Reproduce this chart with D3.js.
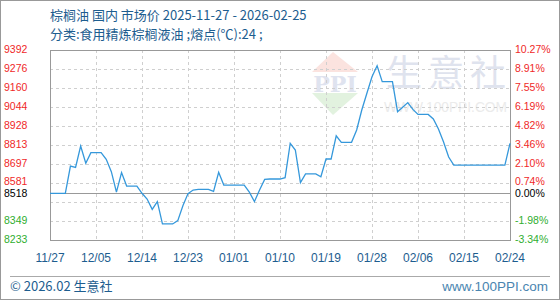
<!DOCTYPE html>
<html>
<head>
<meta charset="utf-8">
<script src="https://cdn.jsdelivr.net/npm/d3@7"></script>
<style>
  body { margin: 0; background: #fff; }
  svg { display: block; }
</style>
</head>
<body>
<div id="chart"></div>
<script>
// chart text
const titleText = "棕榈油 国内 市场价 2025-11-27 - 2026-02-25";
const subTitleText = "分类:食用精炼棕榈液油 ;熔点(℃):24 ;";

// daily prices, 2025-11-27 .. 2026-02-25 (day index 0..90)
const prices = [
    8518, 8518, 8518, 8518, 8684, 8676, 8806, 8701, 8766, 8766,
    8766, 8725, 8650, 8525, 8644, 8562, 8562, 8562, 8518, 8483,
    8420, 8467, 8331, 8331, 8331, 8351, 8442, 8516, 8538, 8542,
    8542, 8542, 8530, 8646, 8568, 8568, 8568, 8568, 8568, 8525,
    8467, 8538, 8603, 8605, 8605, 8605, 8613, 8823, 8782, 8583,
    8636, 8636, 8636, 8619, 8727, 8727, 8869, 8829, 8829, 8829,
    8904, 9026, 9128, 9229, 9296, 9199, 9199, 9199, 9016, 9043,
    9071, 9030, 8999, 8999, 8999, 8971, 8910, 8831, 8739, 8690,
    8690, 8690, 8690, 8690, 8690, 8690, 8690, 8690, 8690, 8690,
    8823
];

// axis ticks
const baseValue = 8518;
const yTickValues = [9392, 9276, 9160, 9044, 8928, 8813, 8697, 8581, 8465, 8349, 8233];
const leftLabelValues = [9392, 9276, 9160, 9044, 8928, 8813, 8697, 8581, 8518, 8349, 8233];
const rightLabels = ["10.27%", "8.91%", "7.55%", "6.19%", "4.82%", "3.46%", "2.10%", "0.74%", "0.00%", "-1.98%", "-3.34%"];
const xTickDays = [0, 9, 18, 27, 36, 45, 54, 63, 72, 81, 90];
const xTickLabels = ["11/27", "12/05", "12/14", "12/23", "01/01", "01/10", "01/19", "01/28", "02/06", "02/15", "02/24"];

const W = 560, H = 300;
const margin = {top: 50, right: 50, bottom: 60, left: 50};

const svg = d3.select("#chart")
    .append("svg")
    .attr("width", W)
    .attr("height", H)
    .style("font-family", "'Liberation Sans', Arial, sans-serif");

// outer frame
svg.append("rect")
    .attr("x", 0.5).attr("y", 0.5)
    .attr("width", W - 1).attr("height", H - 1)
    .attr("fill", "#fff")
    .attr("stroke", "#999");

let x = d3.scaleLinear()
    .domain([0, 90])
    .range([margin.left, W - margin.right]);

let y = d3.scaleLinear()
    .domain([8233, 9392])
    .range([H - margin.bottom, margin.top]);

// titles
svg.append("text")
    .attr("x", 50).attr("y", 20)
    .attr("fill", "#1d5d8f")
    .style("font-family", "'Noto Sans CJK SC', sans-serif")
    .style("font-size", "13px")
    .text(titleText);

svg.append("text")
    .attr("x", 50).attr("y", 39)
    .attr("fill", "#1d5d8f")
    .style("font-family", "'Noto Sans CJK SC', sans-serif")
    .style("font-size", "13px")
    .text(subTitleText);

// watermark
let wm = svg.append("g");
wm.append("path")
    .attr("d", "M333,52 L312,72 L358,72 Z")
    .attr("fill", "#fbe3df");
wm.append("path")
    .attr("d", "M312,93 L358,93 L333,115 Z")
    .attr("fill", "#e2f2df");
wm.append("text")
    .attr("x", 335).attr("y", 92)
    .attr("text-anchor", "middle")
    .attr("fill", "#dfe3ef")
    .style("font-family", "'DejaVu Serif', serif")
    .style("font-weight", "bold")
    .style("font-size", "22px")
    .text("PPI");
wm.append("text")
    .attr("x", 386).attr("y", 86)
    .attr("fill", "#dfe3ee")
    .attr("textLength", 120)
    .attr("lengthAdjust", "spacing")
    .style("font-family", "'Noto Sans CJK SC', sans-serif")
    .style("font-size", "36px")
    .text("生意社");
wm.append("text")
    .attr("x", 384).attr("y", 112)
    .attr("fill", "#ebebeb")
    .attr("textLength", 123)
    .attr("lengthAdjust", "spacingAndGlyphs")
    .style("font-size", "14px")
    .text("WWW.100PPI.COM");

// grid
let grid = svg.append("g")
    .attr("stroke", "#cfcfcf")
    .attr("stroke-dasharray", "3,3");

grid.selectAll(".hgrid")
    .data(yTickValues)
    .join("line")
    .attr("class", "hgrid")
    .attr("x1", x(0)).attr("x2", x(90))
    .attr("y1", d => Math.round(y(d)) + 0.5)
    .attr("y2", d => Math.round(y(d)) + 0.5);

grid.selectAll(".vgrid")
    .data(xTickDays)
    .join("line")
    .attr("class", "vgrid")
    .attr("y1", y(9392)).attr("y2", y(8233))
    .attr("x1", d => Math.round(x(d)) + 0.5)
    .attr("x2", d => Math.round(x(d)) + 0.5);

// base line
svg.append("line")
    .attr("x1", x(0)).attr("x2", x(90))
    .attr("y1", Math.round(y(baseValue)) + 0.5)
    .attr("y2", Math.round(y(baseValue)) + 0.5)
    .attr("stroke", "#999");

// plot frame
svg.append("rect")
    .attr("x", x(0) + 0.5).attr("y", y(9392) + 0.5)
    .attr("width", x(90) - x(0)).attr("height", y(8233) - y(9392))
    .attr("fill", "none")
    .attr("stroke", "#999");

// price line
let line = d3.line()
    .x((d, i) => x(i))
    .y(d => y(d));

svg.append("path")
    .datum(prices)
    .attr("d", line)
    .attr("fill", "none")
    .attr("stroke", "#3598db")
    .attr("stroke-width", 1.3);

// label colours and vertical nudge (8581 and 8518 sit close together)
function valueColor(v) {
    if (v > baseValue) return "#f02828";
    if (v < baseValue) return "#2fae2f";
    return "#000";
}

function labelY(v) {
    if (v === 8581) return y(v) + 1.6;
    if (v === baseValue) return y(v) + 3.4;
    return y(v) + 3.2;
}

// left labels
svg.selectAll(".ylab")
    .data(leftLabelValues)
    .join("text")
    .attr("class", "ylab")
    .attr("x", 4)
    .attr("y", labelY)
    .attr("fill", valueColor)
    .style("font-size", "10.5px")
    .text(d => d);

// right labels
svg.selectAll(".rlab")
    .data(leftLabelValues)
    .join("text")
    .attr("class", "rlab")
    .attr("x", 515)
    .attr("y", labelY)
    .attr("fill", valueColor)
    .style("font-size", "10.5px")
    .text((d, i) => rightLabels[i]);

// x labels
svg.selectAll(".xlab")
    .data(xTickDays)
    .join("text")
    .attr("class", "xlab")
    .attr("x", d => x(d))
    .attr("y", 262)
    .attr("text-anchor", "middle")
    .attr("fill", "#1d5d8f")
    .style("font-size", "12px")
    .text((d, i) => xTickLabels[i]);

// footer
svg.append("line")
    .attr("x1", 10).attr("x2", 550)
    .attr("y1", 276.5).attr("y2", 276.5)
    .attr("stroke", "#aaa");

svg.append("text")
    .attr("x", 10).attr("y", 291)
    .attr("fill", "#1d5d8f")
    .style("font-family", "'Noto Sans CJK SC', sans-serif")
    .style("font-size", "13px")
    .text("© 2026.02 生意社");

svg.append("text")
    .attr("x", 548).attr("y", 291)
    .attr("text-anchor", "end")
    .attr("fill", "#4a85b0")
    .style("font-size", "13.5px")
    .text("www.100PPI.com");
</script>
</body>
</html>
